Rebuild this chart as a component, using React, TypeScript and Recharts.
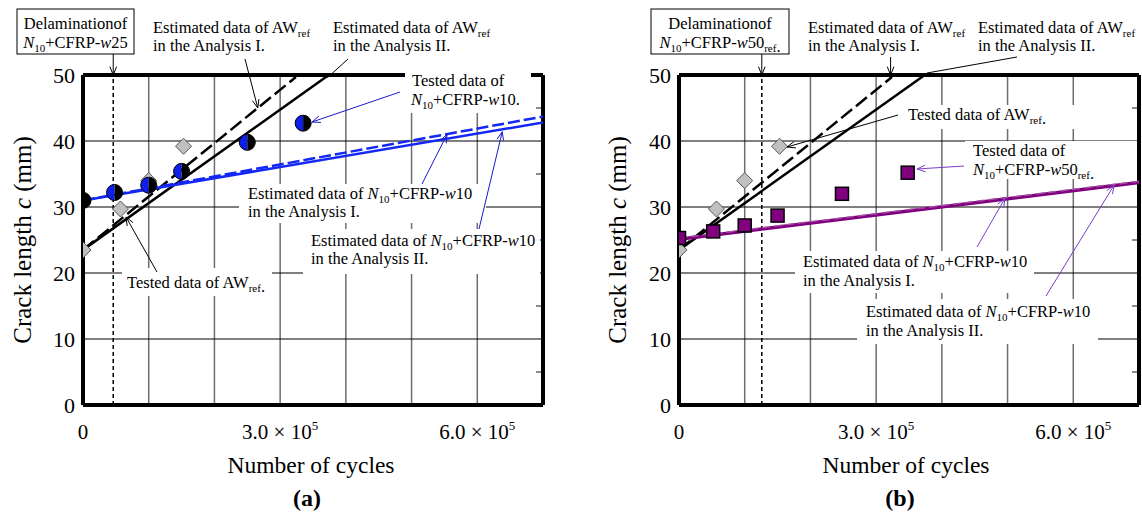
import React from 'react'
import { ScatterChart, Scatter, XAxis, YAxis, CartesianGrid, ReferenceLine } from 'recharts'

const SERIF = 'Liberation Serif, Times New Roman, serif'

// axes
const cycleTicks = [0, 100000, 200000, 300000, 400000, 500000, 600000, 700000]
const labelledCycles = [0, 300000, 600000]
const crackTicks = [0, 10, 20, 30, 40, 50]
const minorCrackTicks = [5, 15, 25, 35, 45]

// tested data of AWref (same in both panels)
const awRefCycles = [0, 57000, 100000, 153000]
const awRefCrack = [23.5, 29.7, 34.0, 39.2]
// estimated AWref
const awRefEstICycles = [0, 324000]
const awRefEstICrack = [23.5, 49.7]
const awRefEstIICycles = [0, 374000]
const awRefEstIICrack = [23.5, 50.0]

// (a) N10+CFRP-w10
const w10Cycles = [0, 48000, 100000, 150000, 250000, 335000]
const w10Crack = [31.0, 32.2, 33.3, 35.4, 39.8, 42.7]
const w10EstICycles = [0, 700000]
const w10EstICrack = [31.0, 43.7]
const w10EstIICycles = [0, 700000]
const w10EstIICrack = [31.0, 42.8]
const delamA = 46000

// (b) N10+CFRP-w50ref
const w50Cycles = [0, 52000, 100000, 150000, 248000, 348000]
const w50Crack = [25.3, 26.3, 27.2, 28.7, 32.0, 35.2]
const w50EstICycles = [0, 700000]
const w50EstICrack = [25.3, 33.9]
const w50EstIICycles = [0, 700000]
const w50EstIICrack = [25.1, 33.7]
const delamB = 126000

const pts = (xs: number[], ys: number[]) => xs.map((x, i) => ({ x, y: ys[i] }))

// plot box geometry (page px)
const TOP = 75
const PH = 330
const PW = 460
const LEFT_A = 83
const LEFT_B = 679
const X_MAX = 700000
const Y_MAX = 50
const axA = (c: number) => LEFT_A + (c / X_MAX) * PW
const axB = (c: number) => LEFT_B + (c / X_MAX) * PW
const ay = (v: number) => TOP + (1 - v / Y_MAX) * PH

const BLUE = '#1428f5'
const PURPLE = '#800080'

const HalfCircle = (p: any) => {
  const { cx, cy } = p
  const r = 8
  return (
    <g>
      <path d={`M${cx},${cy - r} A${r},${r} 0 0 0 ${cx},${cy + r} Z`} fill="#0f1ee8" />
      <path d={`M${cx},${cy - r} A${r},${r} 0 0 1 ${cx},${cy + r} Z`} fill="#000" />
      <circle cx={cx} cy={cy} r={r} fill="none" stroke="#000" strokeWidth={1} />
    </g>
  )
}

const Diamond = (p: any) => {
  const { cx, cy } = p
  const s = 8
  return (
    <polygon
      points={`${cx},${cy - s} ${cx + s},${cy} ${cx},${cy + s} ${cx - s},${cy}`}
      fill="#c0c0c0"
      stroke="#555"
      strokeWidth={1}
    />
  )
}

const Square = (p: any) => {
  const { cx, cy } = p
  return <rect x={cx - 6.5} y={cy - 6.5} width={13} height={13} fill={PURPLE} stroke="#000" strokeWidth={1.5} />
}

const NoDot = () => <g />

const CycleTick = (p: any) => {
  const { x, y, payload } = p
  const v = payload.value
  if (!labelledCycles.includes(v)) return <g />
  if (v === 0) {
    return (
      <text x={x} y={y + 34} textAnchor="middle" fontSize={21} fontFamily={SERIF} fill="#000">0</text>
    )
  }
  return (
    <text x={x} y={y + 34} textAnchor="middle" fontSize={21} fontFamily={SERIF} fill="#000">
      {(v / 100000).toFixed(1)} × 10<tspan dy={-9} fontSize={13}>5</tspan>
    </text>
  )
}

const CrackTick = (p: any) => {
  const { x, y, payload } = p
  return (
    <text x={x} y={y + 7.5} textAnchor="end" fontSize={22} fontFamily={SERIF} fill="#000">{payload.value}</text>
  )
}

const Y_AXIS_W = 40
const X_AXIS_H = 40

function Panel({ width, right, children, delam }: any) {
  return (
    <ScatterChart
      width={width}
      height={516}
      margin={{ top: TOP - 1, left: 83 - Y_AXIS_W, right: right - 1, bottom: 516 - TOP - PH - X_AXIS_H }}
    >
      <CartesianGrid horizontal={false} stroke="#6e6e6e" strokeWidth={1.5} />
      <CartesianGrid vertical={false} stroke="#000" strokeWidth={1} />
      <XAxis
        dataKey="x"
        type="number"
        domain={[0, X_MAX]}
        ticks={cycleTicks}
        interval={0}
        height={X_AXIS_H}
        tickSize={0}
        tickMargin={0}
        tickLine={false}
        tick={CycleTick}
        axisLine={{ stroke: '#000', strokeWidth: 4 }}
        allowDataOverflow
      />
      <XAxis
        xAxisId="top"
        orientation="top"
        type="number"
        domain={[0, X_MAX]}
        height={1}
        tick={false}
        tickLine={false}
        axisLine={{ stroke: '#000', strokeWidth: 4 }}
      />
      <YAxis
        dataKey="y"
        type="number"
        domain={[0, Y_MAX]}
        ticks={crackTicks}
        interval={0}
        width={Y_AXIS_W}
        tickSize={0}
        tickMargin={8}
        tickLine={false}
        tick={CrackTick}
        axisLine={{ stroke: '#000', strokeWidth: 4 }}
        allowDataOverflow
      />
      <YAxis
        yAxisId="r"
        orientation="right"
        type="number"
        domain={[0, Y_MAX]}
        width={1}
        tick={false}
        tickLine={false}
        axisLine={{ stroke: '#000', strokeWidth: 4 }}
      />
      <ReferenceLine x={delam} stroke="#000" strokeWidth={1.5} strokeDasharray="4 3" />
      {children}
    </ScatterChart>
  )
}

function Arrow({ x1, y1, x2, y2, color = '#000', head = true }: any) {
  const a = Math.atan2(y2 - y1, x2 - x1)
  const L = 9
  const w = 0.38
  const p1 = `${x2 - L * Math.cos(a - w)},${y2 - L * Math.sin(a - w)}`
  const p2 = `${x2 - L * Math.cos(a + w)},${y2 - L * Math.sin(a + w)}`
  return (
    <g stroke={color} strokeWidth={1} fill="none">
      <line x1={x1} y1={y1} x2={x2} y2={y2} />
      {head && <polyline points={`${p1} ${x2},${y2} ${p2}`} />}
    </g>
  )
}

const N10 = () => (
  <>
    <tspan fontStyle="italic">N</tspan>
    <tspan fontSize={11} dy={4}>10</tspan>
    <tspan dy={-4}>+CFRP-</tspan>
    <tspan fontStyle="italic">w</tspan>
  </>
)

const Ref = () => <tspan fontSize={11} dy={4}>ref</tspan>

const Txt = ({ x, y, children, anchor = 'start' }: any) => (
  <text x={x} y={y} fontSize={16.5} fontFamily={SERIF} fill="#000" textAnchor={anchor}>{children}</text>
)

function Overlay() {
  return (
    <svg width={1142} height={516} style={{ position: 'absolute', left: 0, top: 0 }}>
      {/* minor ticks on right border */}
      {minorCrackTicks.map(v => (
        <g key={v}>
          <line x1={LEFT_A + PW - 7} x2={LEFT_A + PW - 2} y1={ay(v)} y2={ay(v)} stroke="#666" strokeWidth={1.5} />
          <line x1={LEFT_B + PW - 7} x2={LEFT_B + PW - 2} y1={ay(v)} y2={ay(v)} stroke="#666" strokeWidth={1.5} />
        </g>
      ))}

      {/* ---------- (a) ---------- */}
      <rect x={405} y={68} width={126} height={45} fill="#fff" />
      <rect x={239} y={184} width={247} height={39} fill="#fff" />
      <rect x={303} y={229} width={237} height={45} fill="#fff" />
      <rect x={122} y={268} width={150} height={28} fill="#fff" />

      <rect x={17} y={9} width={117} height={45} fill="#fff" stroke="#000" strokeWidth={1} />
      <Txt x={75.5} y={29} anchor="middle">Delaminationof</Txt>
      <Txt x={75.5} y={48} anchor="middle"><N10 />25</Txt>
      <Arrow x1={axA(delamA)} y1={54} x2={axA(delamA)} y2={TOP} />

      <Txt x={153} y={33}>Estimated data of AW<Ref /></Txt>
      <Txt x={153} y={51}>in the Analysis I.</Txt>
      <Arrow x1={245} y1={59} x2={axA(266000)} y2={ay(45.0)} />

      <Txt x={333} y={33}>Estimated data of AW<Ref /></Txt>
      <Txt x={333} y={51}>in the Analysis II.</Txt>
      <Arrow x1={348} y1={59} x2={axA(372000)} y2={ay(49.6)} head={false} />

      <Txt x={412} y={86}>Tested data of</Txt>
      <Txt x={411} y={105}><N10 />10.</Txt>
      <Arrow x1={400} y1={92} x2={312} y2={122} color="#1a1acc" />

      <Txt x={248} y={199}>Estimated data of <N10 />10</Txt>
      <Txt x={248} y={217}>in the Analysis I.</Txt>
      <Arrow x1={422} y1={184} x2={axA(554000)} y2={ay(41.0)} color="#1a1acc" />

      <Txt x={311} y={246}>Estimated data of <N10 />10</Txt>
      <Txt x={311} y={264}>in the Analysis II.</Txt>
      <Arrow x1={479} y1={229} x2={axA(638000)} y2={ay(41.4)} color="#1a1acc" />

      <Txt x={127} y={288}>Tested data of AW<Ref /><tspan>.</tspan></Txt>
      <Arrow x1={157} y1={272} x2={126} y2={217} />

      <text x={22} y={240} fontSize={25} fontFamily={SERIF} textAnchor="middle" dominantBaseline="central" transform="rotate(-90 22 240)">
        Crack length <tspan fontStyle="italic">c</tspan> (mm)
      </text>
      <text x={311} y={473} fontSize={23.5} fontFamily={SERIF} textAnchor="middle">Number of cycles</text>
      <text x={307} y={506} fontSize={24} fontWeight="bold" fontFamily={SERIF} textAnchor="middle">(a)</text>

      {/* ---------- (b) ---------- */}
      <rect x={900} y={105} width={175} height={24} fill="#fff" />
      <rect x={965} y={141} width={172} height={38} fill="#fff" />
      <rect x={795} y={251} width={239} height={42} fill="#fff" />
      <rect x={857} y={299} width={241} height={45} fill="#fff" />

      <rect x={651} y={9} width={138} height={45} fill="#fff" stroke="#000" strokeWidth={1} />
      <Txt x={720} y={29} anchor="middle">Delaminationof</Txt>
      <Txt x={720} y={48} anchor="middle"><N10 />50<Ref /><tspan>.</tspan></Txt>
      <Arrow x1={axB(delamB)} y1={54} x2={axB(delamB)} y2={TOP} />

      <Txt x={808} y={33}>Estimated data of AW<Ref /></Txt>
      <Txt x={808} y={51}>in the Analysis I.</Txt>
      <Arrow x1={axB(322000)} y1={57} x2={axB(322000)} y2={TOP} />

      <Txt x={978} y={33}>Estimated data of AW<Ref /></Txt>
      <Txt x={978} y={51}>in the Analysis II.</Txt>
      <Arrow x1={1017} y1={57} x2={927} y2={73} head={false} />

      <Txt x={908} y={120}>Tested data of AW<Ref /><tspan>.</tspan></Txt>
      <Arrow x1={898} y1={115} x2={787} y2={147} />

      <Txt x={973} y={156}>Tested data of</Txt>
      <Txt x={973} y={175}><N10 />50<Ref /><tspan>.</tspan></Txt>
      <Arrow x1={964} y1={166} x2={917} y2={169} color="#7a3fc8" />

      <Txt x={803} y={267}>Estimated data of <N10 />10</Txt>
      <Txt x={803} y={286}>in the Analysis I.</Txt>
      <Arrow x1={977} y1={247} x2={axB(496000)} y2={ay(31.3)} color="#7a3fc8" />

      <Txt x={866} y={317}>Estimated data of <N10 />10</Txt>
      <Txt x={866} y={336}>in the Analysis II.</Txt>
      <Arrow x1={1046} y1={296} x2={axB(662000)} y2={ay(33.3)} color="#7a3fc8" />

      <text x={617} y={240} fontSize={25} fontFamily={SERIF} textAnchor="middle" dominantBaseline="central" transform="rotate(-90 617 240)">
        Crack length <tspan fontStyle="italic">c</tspan> (mm)
      </text>
      <text x={906} y={473} fontSize={23.5} fontFamily={SERIF} textAnchor="middle">Number of cycles</text>
      <text x={900} y={506} fontSize={24} fontWeight="bold" fontFamily={SERIF} textAnchor="middle">(b)</text>
    </svg>
  )
}

export default function App() {
  return (
    <div style={{ position: 'absolute', left: 0, top: 0, width: 1142, height: 516, background: '#fff', fontFamily: SERIF }}>
      <div style={{ position: 'absolute', left: 0, top: 0 }}>
        <Panel width={560} right={560 - LEFT_A - PW} delam={delamA}>
          <Scatter data={pts(awRefEstICycles, awRefEstICrack)} shape={NoDot} line={{ stroke: '#000', strokeWidth: 2.5, strokeDasharray: '14 5' }} isAnimationActive={false} />
          <Scatter data={pts(awRefEstIICycles, awRefEstIICrack)} shape={NoDot} line={{ stroke: '#000', strokeWidth: 2.5 }} isAnimationActive={false} />
          <Scatter data={pts(w10EstIICycles, w10EstIICrack)} shape={NoDot} line={{ stroke: BLUE, strokeWidth: 2.5 }} isAnimationActive={false} />
          <Scatter data={pts(w10EstICycles, w10EstICrack)} shape={NoDot} line={{ stroke: BLUE, strokeWidth: 2.5, strokeDasharray: '12 4' }} isAnimationActive={false} />
          <Scatter data={pts(awRefCycles, awRefCrack)} shape={Diamond} isAnimationActive={false} />
          <Scatter data={pts(w10Cycles, w10Crack)} shape={HalfCircle} isAnimationActive={false} />
        </Panel>
      </div>
      <div style={{ position: 'absolute', left: 596, top: 0 }}>
        <Panel width={546} right={546 - (LEFT_B - 596) - PW} delam={delamB}>
          <Scatter data={pts(awRefEstICycles, awRefEstICrack)} shape={NoDot} line={{ stroke: '#000', strokeWidth: 2.5, strokeDasharray: '14 5' }} isAnimationActive={false} />
          <Scatter data={pts(awRefEstIICycles, awRefEstIICrack)} shape={NoDot} line={{ stroke: '#000', strokeWidth: 2.5 }} isAnimationActive={false} />
          <Scatter data={pts(w50EstIICycles, w50EstIICrack)} shape={NoDot} line={{ stroke: PURPLE, strokeWidth: 3.5 }} isAnimationActive={false} />
          <Scatter data={pts(w50EstICycles, w50EstICrack)} shape={NoDot} line={{ stroke: '#a24ca2', strokeWidth: 1.5, strokeDasharray: '8 4' }} isAnimationActive={false} />
          <Scatter data={pts(awRefCycles, awRefCrack)} shape={Diamond} isAnimationActive={false} />
          <Scatter data={pts(w50Cycles, w50Crack)} shape={Square} isAnimationActive={false} />
        </Panel>
      </div>
      <Overlay />
    </div>
  )
}
